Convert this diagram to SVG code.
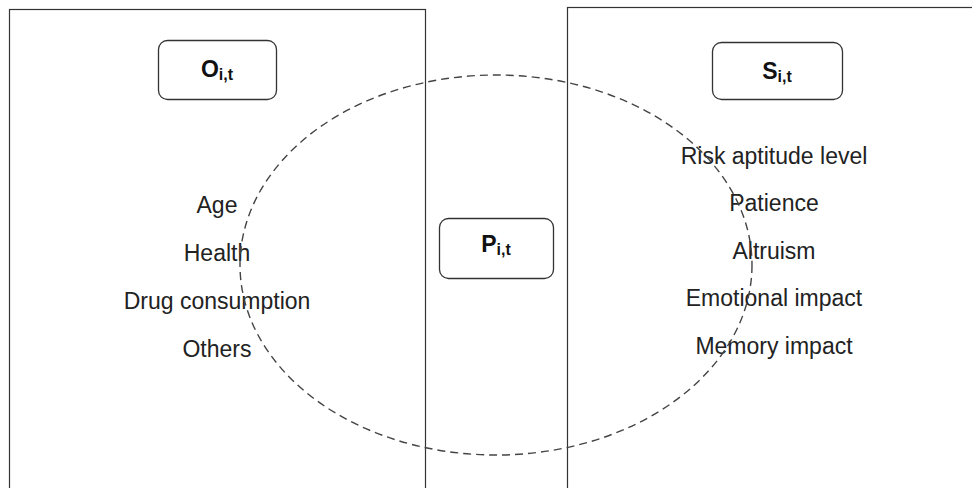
<svg xmlns="http://www.w3.org/2000/svg" width="972" height="488" viewBox="0 0 972 488">
<style>
.frame{fill:none;stroke:#333;stroke-width:1.2}
.box{fill:#fff;stroke:#333;stroke-width:1.3}
.lbl{font-family:"Liberation Sans",Arial,sans-serif;font-weight:bold;font-size:23px;fill:#111;text-anchor:middle}
.sub{font-size:16px}
.item{font-family:"Liberation Sans",Arial,sans-serif;font-size:23px;fill:#222;text-anchor:middle}
.ell{fill:none;stroke:#444;stroke-width:1.4;stroke-dasharray:8 5}
</style>
<rect width="972" height="488" fill="#fff"/>
<g id="left-frame">
<rect class="frame" x="9.5" y="9.5" width="416" height="500"/>
</g>
<g id="right-frame">
<rect class="frame" x="567.5" y="7.5" width="420" height="500"/>
</g>
<g id="node-O">
<rect class="box" x="158.5" y="40.5" width="118" height="59" rx="9"/>
<text class="lbl" x="217" y="77">O<tspan class="sub" dy="3">i,t</tspan></text>
</g>
<g id="node-S">
<rect class="box" x="712.5" y="42.5" width="130" height="57" rx="9"/>
<text class="lbl" x="777" y="79">S<tspan class="sub" dy="3">i,t</tspan></text>
</g>
<g id="node-P">
<rect class="box" x="439.5" y="218.5" width="114" height="60" rx="9"/>
<text class="lbl" x="496" y="252">P<tspan class="sub" dy="3">i,t</tspan></text>
</g>
<g id="objective-items">
<text class="item" x="217" y="213">Age</text>
<text class="item" x="217" y="261">Health</text>
<text class="item" x="217" y="309">Drug consumption</text>
<text class="item" x="217" y="357">Others</text>
</g>
<g id="subjective-items">
<text class="item" x="774" y="164">Risk aptitude level</text>
<text class="item" x="774" y="211">Patience</text>
<text class="item" x="774" y="259">Altruism</text>
<text class="item" x="774" y="306">Emotional impact</text>
<text class="item" x="774" y="354">Memory impact</text>
</g>
<g id="connectors">
<ellipse class="ell" cx="496" cy="265" rx="256" ry="190"/>
</g>
</svg>
